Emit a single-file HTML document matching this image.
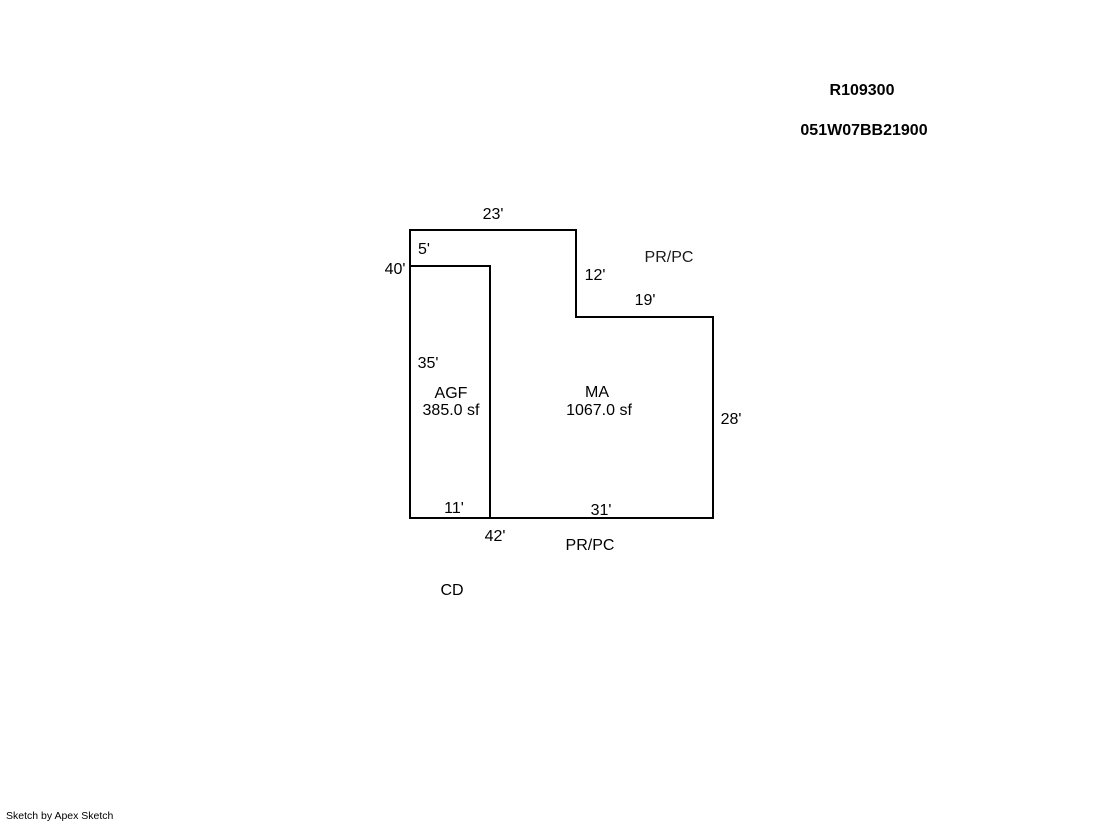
<!DOCTYPE html>
<html><head><style>
body{margin:0;background:#fff;width:1119px;height:821px;overflow:hidden}
svg text{font-family:"Liberation Sans",Arial,sans-serif;font-size:16px;fill:#000}
</style></head><body>
<svg width="1119" height="821" xmlns="http://www.w3.org/2000/svg">
<g fill="none" stroke="#000" stroke-width="2">
<path d="M410 230 H576 V317 H713 V518 H410 Z"/>
<path d="M410 266 H490 V518"/>
</g>
<g text-anchor="middle">
<text x="862" y="95" font-weight="bold">R109300</text>
<text x="864" y="135" font-weight="bold">051W07BB21900</text>
<text x="493" y="219">23'</text>
<text x="424" y="254">5'</text>
<text x="395" y="274">40'</text>
<text x="595" y="280">12'</text>
<text x="669" y="262" style="fill:#1a1a1a">PR/PC</text>
<text x="645" y="305">19'</text>
<text x="428" y="368">35'</text>
<text x="451" y="398">AGF</text>
<text x="451" y="415">385.0 sf</text>
<text x="597" y="397">MA</text>
<text x="599" y="415">1067.0 sf</text>
<text x="731" y="424">28'</text>
<text x="454" y="513">11'</text>
<text x="601" y="515">31'</text>
<text x="495" y="541">42'</text>
<text x="590" y="550">PR/PC</text>
<text x="452" y="595">CD</text>
</g>
<text x="6" y="819" style="font-size:10.5px">Sketch by Apex Sketch</text>
</svg>
</body></html>
